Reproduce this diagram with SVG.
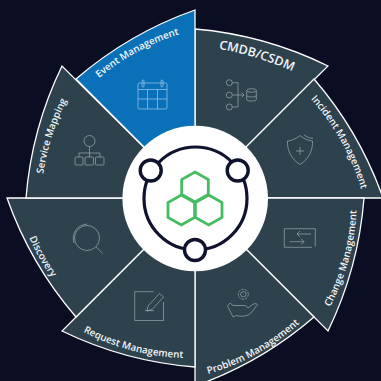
<svg xmlns="http://www.w3.org/2000/svg" width="381" height="381" viewBox="0 0 381 381">
<style>
.w{fill:#2e424e;stroke:#fff;stroke-width:1.3;stroke-linejoin:miter}
.b{fill:#0a70b8}
.t{font-family:"Open Sans","Noto Sans",sans-serif;font-weight:600;font-size:9.8px;fill:#f2f5f6}
.i{fill:none;stroke:#aeb8be;stroke-width:.8;stroke-opacity:.75}
.ib{stroke:#9cc8ea;stroke-opacity:.9}
.hex{fill:none;stroke:#45bb62;stroke-width:2.8;stroke-linejoin:miter}
.ring{fill:none;stroke:#10132e;stroke-width:3.2}
.dot{fill:#fff;stroke:#10132e;stroke-width:3.4}
</style>
<defs>
<path id="p1" d="M99 78A230 230 0 0 1 180 34L190 31"/>
<path id="p2" d="M218.700 49A300 300 0 0 1 293 71.500L303 76"/>
<path id="p3" d="M310.700 99A230 230 0 0 1 362 192L364 202"/>
<path id="p4" d="M330 307A230 230 0 0 0 356.500 211L357 201"/>
<path id="p5" d="M208 374A230 230 0 0 0 301 322L309 315"/>
<path id="p6" d="M83.300 331.700A230 230 0 0 0 184 358L194 359"/>
<path id="p7" d="M29.300 237.700A230 230 0 0 0 52 278L58 286"/>
<path id="p8" d="M43.300 174A230 230 0 0 1 67 100L72 91"/>
</defs>
<rect width="381" height="381" fill="#0b0d22"/>
<g id="cmdb">
<path class="w" d="M195 198V29A370 370 0 0 1 328 66Z"/>
<g class="i"><circle cx="229.300" cy="82.700" r="3"/><circle cx="229.300" cy="95" r="3"/><circle cx="229.300" cy="107" r="3"/><path d="M232.500 82.700H238V107H232.500M232.500 95H244M241.500 92.500L244 95L241.500 97.500"/><ellipse cx="251.500" cy="90.500" rx="4.800" ry="1.800"/><path d="M246.700 90.500V99.500C246.700 101.500 256.300 101.500 256.300 99.500V90.500M246.700 95.500C246.700 97.500 256.300 97.500 256.300 95.500"/></g>
<text class="t" style="font-size:12.5px"><textPath href="#p2">CMDB/CSDM</textPath></text>
</g>
<g id="incident">
<path class="w" d="M195 198L314 79A370 370 0 0 1 383 198Z"/>
<g class="i"><path d="M300 135.500C296 139 292 140.500 287.500 141C287 150 291 159 300 164.500C309 159 313 150 312.500 141C308 140.500 304 139 300 135.500ZM300 147V155M296 151H304M304 135C307 137 309 138 313 138.500"/></g>
<text class="t"><textPath href="#p3">Incident Management</textPath></text>
</g>
<g id="change">
<path class="w" d="M195 198H364A370 370 0 0 1 328 331Z"/>
<g class="i"><path d="M315.300 246.500V228.700H284.300V247.300H312M311 234H297M300 231L297 234L300 237M289.500 241.700H304M301 238.700L304 241.700L301 244.700"/></g>
<text class="t"><textPath href="#p4">Change Management</textPath></text>
</g>
<g id="problem">
<path class="w" d="M195 198L314 317A370 370 0 0 1 195 386Z"/>
<g class="i"><circle cx="243.300" cy="294.300" r="2.700"/><circle cx="243.300" cy="294.300" r="5" stroke-dasharray="2.500 1"/><path d="M230 303L227.500 306L233 317L236 315.500C243 317 248 316 251 313L257.500 304.500C256 303 254 303.500 252 305L248 308C247 306 245 305.500 243 305.500H238L233 305.500Z"/></g>
<text class="t"><textPath href="#p5">Problem Management</textPath></text>
</g>
<g id="request">
<path class="w" d="M195 198V367A370 370 0 0 1 62 331Z"/>
<g class="i"><path d="M153.500 291.700H134.700V320.500H163.500V302"/><path d="M148 306L159.500 293.500L163.500 297L152 309.500L147 311ZM145 310.700H154"/></g>
<text class="t"><textPath href="#p6">Request Management</textPath></text>
</g>
<g id="discovery">
<path class="w" d="M195 198L76 317A370 370 0 0 1 7 198Z"/>
<g class="i"><circle cx="87" cy="238" r="12.500"/><path d="M96 247L102.700 253.300M74 243C71 232 78 225 87 224"/></g>
<text class="t"><textPath href="#p7">Discovery</textPath></text>
</g>
<g id="service-mapping">
<path class="w" d="M195 198H26A370 370 0 0 1 62 66Z"/>
<g class="i"><circle cx="89.500" cy="141" r="5.500"/><path d="M89.500 146.500V153M79 157V153H100V157M89.500 153V157"/><rect x="75" y="157" width="8" height="8" rx="1"/><rect x="85" y="157" width="8.500" height="8" rx="1"/><rect x="95.500" y="157" width="8.500" height="8" rx="1"/></g>
<text class="t"><textPath href="#p8">Service Mapping</textPath></text>
</g>
<g id="event-management">
<path class="w b" d="M195 198L76 79A370 370 0 0 1 195 10Z"/>
<g class="i ib"><rect x="138" y="83" width="29" height="26" rx="1.500"/><path d="M138 89.500H167M147.500 89.500V109M157.500 89.500V109M138 99H167"/><rect x="142" y="80" width="2" height="7" rx="1"/><rect x="161" y="80" width="2" height="7" rx="1"/></g>
<text class="t"><textPath href="#p1">Event Management</textPath></text>
</g>
<g id="hub">
<circle cx="195.200" cy="198.500" r="72.800" fill="#fff"/>
<circle class="ring" cx="195.500" cy="198.500" r="51.500"/>
<circle class="dot" cx="150.700" cy="170.500" r="10.500"/>
<circle class="dot" cx="237.700" cy="170.500" r="10.500"/>
<circle class="dot" cx="195" cy="250" r="10.500"/>
<path class="hex" d="M195 172L208.300 179.500V194.500L195 202L181.700 194.500V179.500Z"/>
<path class="hex" d="M181.300 195L194.600 202.500V217.500L181.300 225L168 217.500V202.500Z"/>
<path class="hex" d="M208.700 195L222 202.500V217.500L208.700 225L195.400 217.500V202.500Z"/>
</g>
</svg>
